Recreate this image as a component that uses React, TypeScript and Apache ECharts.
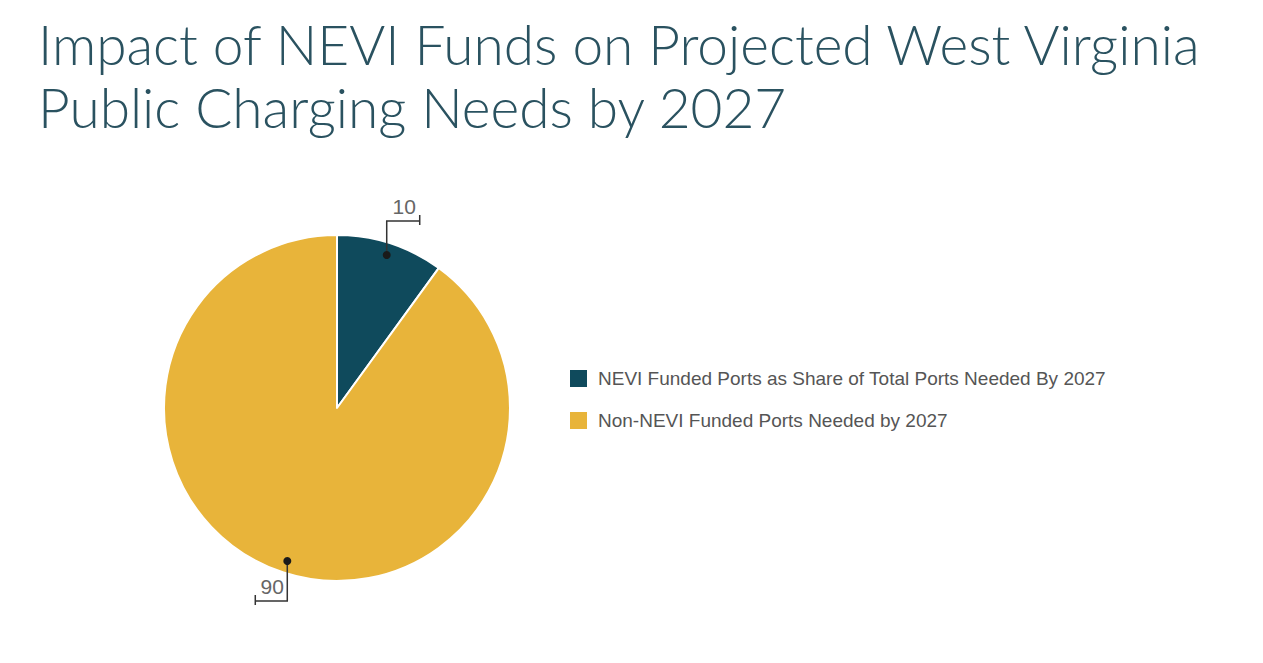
import { useEffect, useRef } from 'react';
import * as echarts from 'echarts';

// 数据
const categories = [
  'NEVI Funded Ports as Share of Total Ports Needed By 2027',
  'Non-NEVI Funded Ports Needed by 2027',
];
const shares = [10, 90];
const colors = ['#0f4a5c', '#e8b43a'];

const titleLines = [
  'Impact of NEVI Funds on Projected West Virginia',
  'Public Charging Needs by 2027',
];

// 饼图几何
const PIE_CENTER: [number, number] = [337, 408];
const PIE_RADIUS = 173;

export default function App() {
  const chartRef = useRef<HTMLDivElement>(null);

  useEffect(() => {
    if (!chartRef.current) return;
    const chart = echarts.init(chartRef.current, undefined, { renderer: 'svg' });

    const total = shares.reduce((a, b) => a + b, 0);

    // 折线标注
    const renderCallout = (params: any, api: any) => {
      const i = params.dataIndex;
      const before = shares.slice(0, i).reduce((a, b) => a + b, 0);
      const mid = (before + api.value(1) / 2) / total;
      const theta = mid * Math.PI * 2;
      const [cx, cy] = PIE_CENTER;
      const dx = Math.sin(theta);
      const dy = -Math.cos(theta);
      const dotX = cx + PIE_RADIUS * 0.93 * dx;
      const dotY = cy + PIE_RADIUS * 0.93 * dy;
      const up = dy < 0;
      const cornerY = up ? cy - PIE_RADIUS - 14 : cy + PIE_RADIUS + 20;
      const endX = dotX + (dx > 0 ? 33 : -32);
      const lineStyle = { stroke: '#333', lineWidth: 1.5, fill: null };
      return {
        type: 'group',
        children: [
          {
            type: 'polyline',
            shape: { points: [[dotX, dotY], [dotX, cornerY], [endX, cornerY]] },
            style: lineStyle,
          },
          {
            type: 'line',
            shape: { x1: endX, y1: cornerY - 6, x2: endX, y2: cornerY + 4 },
            style: lineStyle,
          },
          {
            type: 'circle',
            shape: { cx: dotX, cy: dotY, r: 4 },
            style: { fill: '#1a1a1a' },
          },
          {
            type: 'text',
            x: (dotX + endX) / 2 + 1,
            y: cornerY - 4,
            style: {
              text: String(api.value(1)),
              fill: '#666',
              font: '21px "Liberation Sans", sans-serif',
              align: 'center',
              verticalAlign: 'bottom',
            },
          },
        ],
      };
    };

    const titleStyle = {
      fontFamily: 'Lato, sans-serif',
      fontWeight: 300,
      fontSize: 55,
      lineHeight: 62,
      color: '#2a5260',
    };

    const option: echarts.EChartsOption = {
      animation: false,
      backgroundColor: '#fff',
      title: titleLines.map((text, i) => ({
        text,
        left: 38,
        top: 13 + i * 63,
        padding: 0,
        textStyle: titleStyle,
      })),
      legend: {
        orient: 'vertical',
        left: 568,
        top: 368,
        padding: 0,
        itemWidth: 19,
        itemHeight: 19,
        itemGap: 21,
        icon: 'rect',
        selectedMode: false,
        data: categories,
        textStyle: {
          fontFamily: '"Liberation Sans", sans-serif',
          fontSize: 19,
          color: '#555',
          padding: [0, 0, 0, 5],
        },
      },
      series: [
        {
          type: 'pie',
          center: PIE_CENTER,
          radius: PIE_RADIUS,
          startAngle: 90,
          clockwise: true,
          label: { show: false },
          labelLine: { show: false },
          itemStyle: { borderColor: '#fff', borderWidth: 2 },
          emphasis: { disabled: true },
          data: categories.map((name, i) => ({
            name,
            value: shares[i],
            itemStyle: { color: colors[i] },
          })),
        },
        {
          type: 'custom',
          coordinateSystem: 'none',
          silent: true,
          z: 10,
          data: shares.map((v, i) => [i, v]),
          renderItem: renderCallout as any,
        },
      ],
    };

    chart.setOption(option);
    return () => chart.dispose();
  }, []);

  return (
    <div
      ref={chartRef}
      style={{ position: 'fixed', left: 0, top: 0, width: 1263, height: 663 }}
    />
  );
}
